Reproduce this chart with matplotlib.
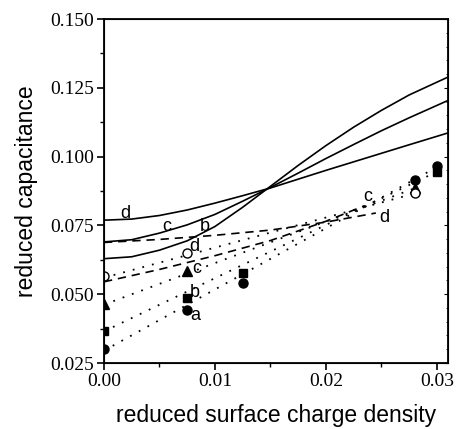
import matplotlib
matplotlib.use("Agg")
import matplotlib.pyplot as plt
from matplotlib.ticker import MultipleLocator

# ---------------- data ----------------
sigma_grid = [0, 0.0025, 0.005, 0.0075, 0.01, 0.0125, 0.015, 0.0175, 0.02, 0.0225, 0.025, 0.0275, 0.031]
solid_d = [0.0769, 0.0773, 0.0786, 0.0806, 0.0831, 0.0858, 0.0886, 0.0918, 0.0950, 0.0981, 0.1012, 0.1043, 0.1086]
solid_c = [0.0690, 0.0698, 0.0722, 0.0752, 0.0790, 0.0838, 0.0888, 0.0940, 0.0993, 0.1044, 0.1094, 0.1141, 0.1204]
solid_b = [0.0629, 0.0636, 0.0660, 0.0694, 0.0746, 0.0816, 0.0892, 0.0968, 0.1040, 0.1107, 0.1168, 0.1224, 0.1289]

dash_c_x = [0, 0.005, 0.01, 0.015, 0.02, 0.0235]
dash_c_y = [0.0545, 0.0590, 0.0640, 0.0695, 0.0765, 0.0822]
dash_d_x = [0, 0.005, 0.01, 0.015, 0.02, 0.0245]
dash_d_y = [0.0688, 0.0699, 0.0714, 0.0733, 0.0762, 0.0795]

dot_d_x = [0, 0.028]
dot_d_y = [0.0560, 0.0866]
dot_c_x = [0, 0.028]
dot_c_y = [0.0462, 0.0885]
dot_b_x = [0, 0.030]
dot_b_y = [0.0365, 0.0945]
dot_a_x = [0, 0.030]
dot_a_y = [0.0295, 0.0962]

pts_a_x = [0, 0.0075, 0.0125, 0.028, 0.030]
pts_a_y = [0.0300, 0.0443, 0.0540, 0.0914, 0.0967]
pts_b_x = [0, 0.0075, 0.0125, 0.030]
pts_b_y = [0.0367, 0.0488, 0.0576, 0.0945]
pts_c_x = [0, 0.0075, 0.028]
pts_c_y = [0.0464, 0.0584, 0.0886]
pts_d_x = [0, 0.0075, 0.028]
pts_d_y = [0.0565, 0.0649, 0.0866]

labels = [("d", 0.00189, 0.0793), ("c", 0.00565, 0.0745), ("b", 0.0091, 0.0745),
          ("d", 0.00811, 0.0675), ("c", 0.00835, 0.0593), ("b", 0.00814, 0.0506),
          ("a", 0.0082, 0.0421), ("c", 0.0238, 0.0856), ("d", 0.0253, 0.0778)]

xticks = [0.00, 0.01, 0.02, 0.03]
xticklabels = ["0.00", "0.01", "0.02", "0.03"]
yticks = [0.025, 0.050, 0.075, 0.100, 0.125, 0.150]
yticklabels = ["0.025", "0.050", "0.075", "0.100", "0.125", "0.150"]

# ---------------- figure ----------------
fig = plt.figure(figsize=(4.58, 4.29), dpi=100)
ax = fig.add_axes([104/458, 1-363/429, (448-104)/458, (363-19)/429])

for ys in (solid_d, solid_c, solid_b):
    ax.plot(sigma_grid, ys, color="black", lw=1.2, solid_capstyle="round")

for xs, ys in ((dash_c_x, dash_c_y), (dash_d_x, dash_d_y)):
    ax.plot(xs, ys, color="black", lw=1.2, linestyle=(0, (5, 3.5)))

for xs, ys in ((dot_d_x, dot_d_y), (dot_c_x, dot_c_y), (dot_b_x, dot_b_y), (dot_a_x, dot_a_y)):
    ax.plot(xs, ys, color="black", lw=1.3, linestyle=(0, (1, 4.5)))

ms = 6.5
ax.plot(pts_a_x, pts_a_y, "o", color="black", ms=ms, mec="black")
ax.plot(pts_b_x, pts_b_y, "s", color="black", ms=ms-0.5, mec="black")
ax.plot(pts_c_x, pts_c_y, "^", color="black", ms=ms, mec="black")
ax.plot(pts_d_x, pts_d_y, "o", mfc="white", mec="black", ms=ms, mew=1.0)

for t, x, y in labels:
    ax.text(x, y, t, ha="center", va="center", fontsize=13, family="Liberation Sans")

ax.set_xlim(0, 0.031)
ax.set_ylim(0.025, 0.150)
ax.set_xticks(xticks)
ax.set_xticklabels(xticklabels)
ax.set_yticks(yticks)
ax.set_yticklabels(yticklabels)
ax.xaxis.set_minor_locator(MultipleLocator(0.005))
ax.yaxis.set_minor_locator(MultipleLocator(0.0125))

for lab in ax.get_xticklabels() + ax.get_yticklabels():
    lab.set_family("Liberation Serif")
    lab.set_fontsize(14)

ax.tick_params(which="major", direction="out", length=5, width=1.2, pad=2)
ax.tick_params(which="minor", direction="out", length=3, width=1.0)
for s in ax.spines.values():
    s.set_linewidth(1.3)

# small inward ticks on the right frame
ax_r = ax.twinx()
ax_r.set_ylim(0.025, 0.150)
ax_r.yaxis.set_major_locator(MultipleLocator(0.025))
ax_r.yaxis.set_minor_locator(MultipleLocator(0.005))
ax_r.tick_params(which="both", direction="in", labelright=False)
ax_r.tick_params(which="major", length=3, width=0.8)
ax_r.tick_params(which="minor", length=1.5, width=0.6)

ax.set_xlabel("reduced surface charge density", family="Liberation Sans", fontsize=16.5, labelpad=10)
ax.set_ylabel("reduced capacitance", family="Liberation Sans", fontsize=16.5, labelpad=9)

fig.savefig("out.png", dpi=100)
